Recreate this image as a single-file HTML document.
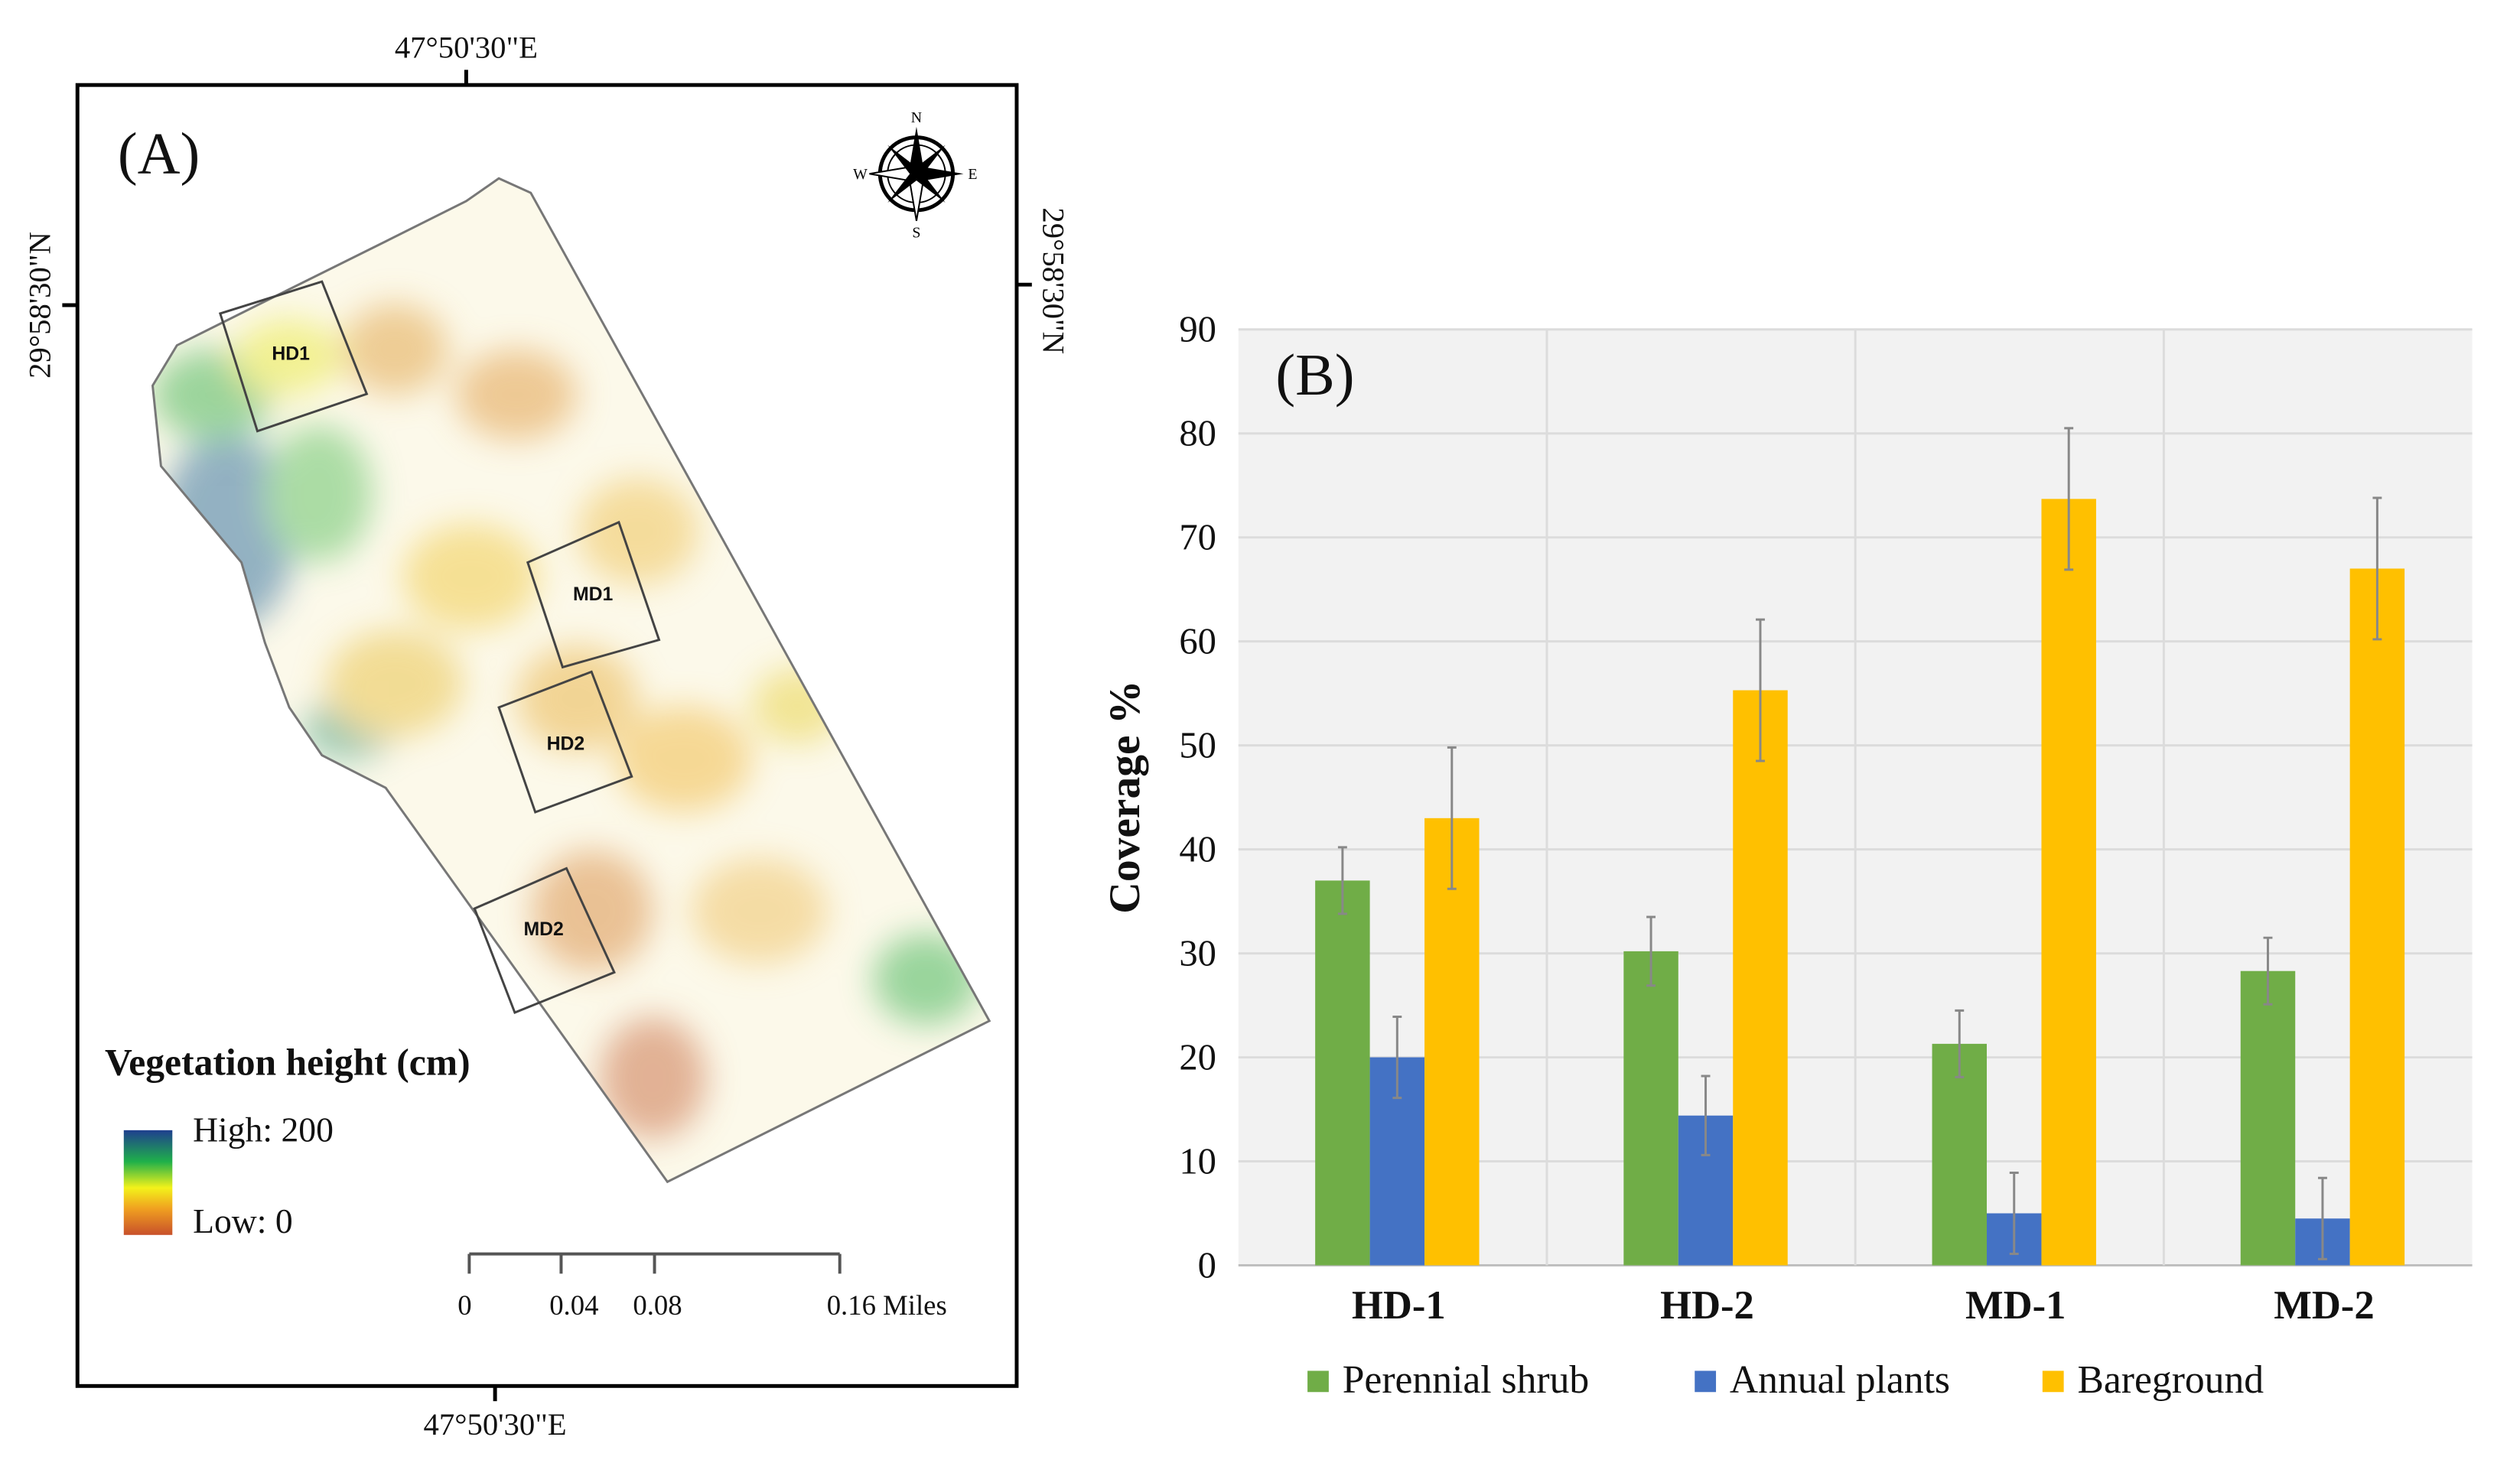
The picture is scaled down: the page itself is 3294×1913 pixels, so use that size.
<!DOCTYPE html>
<html><head><meta charset="utf-8"><style>
html,body{margin:0;padding:0;background:#fff;}
svg{display:block;font-family:"Liberation Serif",serif;}
</style></head><body>
<svg width="3294" height="1913" viewBox="0 0 3294 1913" xmlns="http://www.w3.org/2000/svg">
<defs>
<filter id="blur" x="-50%" y="-50%" width="200%" height="200%"><feGaussianBlur stdDeviation="22"/></filter>
<clipPath id="mapclip"><polygon points="657,235 699,254 1303,1345 879,1557 508,1038 424,995 381,932 349,847 318,741 212,614 201,508 233,455 339,402 508,318 614,265"/></clipPath>
<linearGradient id="cbar" x1="0" y1="0" x2="0" y2="1">
<stop offset="0" stop-color="#1f3f8f"/><stop offset="0.3" stop-color="#1fb04a"/><stop offset="0.55" stop-color="#f3f21a"/><stop offset="0.75" stop-color="#f0a020"/><stop offset="1" stop-color="#c8502a"/></linearGradient>
</defs>
<g transform="scale(0.9925)">
<g>
<rect x="102" y="112" width="1237" height="1714" fill="#fff" stroke="#000" stroke-width="5"/>
<g clip-path="url(#mapclip)">
<rect x="150" y="200" width="1200" height="1400" fill="#fcf9ea"/>
<g filter="url(#blur)" opacity="0.5">
<ellipse cx="300" cy="700" rx="90" ry="130" fill="#2a6a9a"/>
<ellipse cx="280" cy="520" rx="80" ry="60" fill="#3cb050"/>
<ellipse cx="420" cy="650" rx="70" ry="90" fill="#5cc060"/>
<ellipse cx="460" cy="960" rx="60" ry="40" fill="#2a9a7a"/>
<ellipse cx="380" cy="470" rx="70" ry="50" fill="#e8e83a"/>
<ellipse cx="520" cy="460" rx="70" ry="60" fill="#e0a040"/>
<ellipse cx="680" cy="520" rx="80" ry="60" fill="#e09a40"/>
<ellipse cx="620" cy="760" rx="90" ry="70" fill="#f0c840"/>
<ellipse cx="520" cy="900" rx="90" ry="70" fill="#e8c040"/>
<ellipse cx="760" cy="920" rx="80" ry="70" fill="#e8b040"/>
<ellipse cx="840" cy="700" rx="80" ry="70" fill="#eec050"/>
<ellipse cx="900" cy="1000" rx="90" ry="70" fill="#f0b840"/>
<ellipse cx="780" cy="1200" rx="80" ry="80" fill="#d88a40"/>
<ellipse cx="860" cy="1420" rx="70" ry="80" fill="#c86a40"/>
<ellipse cx="1000" cy="1200" rx="90" ry="70" fill="#eec060"/>
<ellipse cx="1220" cy="1290" rx="70" ry="60" fill="#38b050"/>
<ellipse cx="1050" cy="930" rx="60" ry="50" fill="#e8d040"/>
</g>
</g>
<polygon points="657,235 699,254 1303,1345 879,1557 508,1038 424,995 381,932 349,847 318,741 212,614 201,508 233,455 339,402 508,318 614,265" fill="none" stroke="#777" stroke-width="3"/>
<g fill="none" stroke="#444" stroke-width="3">
<polygon points="290,413 424,371 483,519 339,568"/>
<polygon points="695,741 815,688 868,843 741,879"/>
<polygon points="657,932 779,885 832,1023 705,1070"/>
<polygon points="625,1197 746,1144 809,1281 678,1334"/>
</g>
<g font-family="Liberation Sans,sans-serif" font-weight="bold" font-size="25" text-anchor="middle" fill="#111">
<text x="383" y="474">HD1</text>
<text x="781" y="791">MD1</text>
<text x="745" y="988">HD2</text>
<text x="716" y="1232">MD2</text>
</g>
<text x="155" y="228" font-size="78" fill="#111">(A)</text>
<g transform="translate(1207,229)">
<circle r="48" fill="none" stroke="#000" stroke-width="5"/>
<circle r="38" fill="none" stroke="#000" stroke-width="2"/>
<polygon points="0,-62 9,-9 0,0 -9,-9" fill="#000"/><polygon points="0,62 9,9 0,0 -9,9" fill="#fff" stroke="#000" stroke-width="2"/>
<polygon points="62,0 9,9 0,0 9,-9" fill="#000"/><polygon points="-62,0 -9,9 0,0 -9,-9" fill="#fff" stroke="#000" stroke-width="2"/>
<polygon points="38,-38 5,5 -5,-5" fill="#000"/><polygon points="-38,38 5,5 -5,-5" fill="#000"/>
<polygon points="-38,-38 5,-5 -5,5" fill="#000"/><polygon points="38,38 5,-5 -5,5" fill="#000"/>
<g font-size="20" text-anchor="middle"><text x="0" y="-68">N</text><text x="0" y="84">S</text><text x="-74" y="7">W</text><text x="74" y="7">E</text></g>
</g>
<g font-size="41" fill="#111">
<text x="614" y="76" text-anchor="middle">47°50'30"E</text>
<line x1="614" y1="92" x2="614" y2="112" stroke="#000" stroke-width="5"/>
<text x="652" y="1890" text-anchor="middle">47°50'30"E</text>
<line x1="652" y1="1826" x2="652" y2="1846" stroke="#000" stroke-width="5"/>
<text transform="translate(66,402) rotate(-90)" text-anchor="middle">29°58'30"N</text>
<line x1="82" y1="402" x2="102" y2="402" stroke="#000" stroke-width="5"/>
<text transform="translate(1374,370) rotate(90)" text-anchor="middle">29°58'30"N</text>
<line x1="1339" y1="375" x2="1359" y2="375" stroke="#000" stroke-width="5"/>
</g>
<g>
<text x="138" y="1416" font-size="50" font-weight="bold" fill="#111">Vegetation height (cm)</text>
<rect x="163" y="1489" width="64" height="138" fill="url(#cbar)"/>
<text x="254" y="1504" font-size="46" fill="#111">High: 200</text>
<text x="254" y="1624" font-size="46" fill="#111">Low: 0</text>
</g>
<g stroke="#555" stroke-width="4">
<line x1="618" y1="1652" x2="1106" y2="1652"/>
<line x1="618" y1="1652" x2="618" y2="1678"/><line x1="739" y1="1652" x2="739" y2="1678"/><line x1="862" y1="1652" x2="862" y2="1678"/><line x1="1106" y1="1652" x2="1106" y2="1678"/>
<g stroke="none" fill="#111" font-size="37" text-anchor="middle"><text x="612" y="1732">0</text><text x="756" y="1732">0.04</text><text x="866" y="1732">0.08</text><text x="1168" y="1732">0.16 Miles</text></g>
</g>
</g>

<g id="chart">
<rect x="1631" y="434" width="1625" height="1233" fill="#f2f2f2"/>
<g id="grid"></g>
<g id="bars"></g>
<g id="axes"></g>
<text x="1680" y="520" font-size="78" fill="#111">(B)</text>
<text transform="translate(1500,1050) rotate(-90)" text-anchor="middle" font-size="58" font-weight="bold" fill="#111">Coverage %</text>
<g id="legend"></g>
</g>
</g>
</svg>
<script>
var categories=["HD-1","HD-2","MD-1","MD-2"];
var seriesNames=["Perennial shrub","Annual plants","Bareground"];
var perennial=[37,30.2,21.3,28.3];
var annual=[20,14.4,5,4.5];
var bareground=[43,55.3,73.7,67];
var perennialErr=[3.2,3.3,3.2,3.2];
var annualErr=[3.9,3.8,3.9,3.9];
var baregroundErr=[6.8,6.8,6.8,6.8];
var yTicks=[0,10,20,30,40,50,60,70,80,90];
(function(){
var NS="http://www.w3.org/2000/svg";
var colors=["#70ad47","#4472c4","#ffc000"];
var vals=[perennial,annual,bareground], errs=[perennialErr,annualErr,baregroundErr];
var L=1631,R=3256,T=434,B=1667,yMax=90;
function y(v){return B-(v/yMax)*(B-T);}
var gw=(R-L)/categories.length;
function x(i){return L+gw*(i+0.5);}
var bw=72;
function mk(tag,attrs,parent){var e=document.createElementNS(NS,tag);for(var k in attrs)e.setAttribute(k,attrs[k]);parent.appendChild(e);return e;}
var grid=document.getElementById('grid'),bars=document.getElementById('bars'),axes=document.getElementById('axes'),leg=document.getElementById('legend');
yTicks.forEach(function(t){
 var l=mk('line',{x1:L,x2:R,y1:y(t),y2:y(t),stroke:t===0?'#bfbfbf':'#dcdcdc','stroke-width':3},grid);
 
 
 var tx=mk('text',{x:1602,y:y(t)+16,'text-anchor':'end','font-size':49,fill:'#111'},axes);
 tx.textContent=t;
 
 
});
for(var i=1;i<categories.length;i++){
 var l=mk('line',{x1:L+gw*i,x2:L+gw*i,y1:T,y2:B,stroke:'#dcdcdc','stroke-width':3},grid);
 
 
}
categories.forEach(function(c,i){
 vals.forEach(function(s,j){
  var bx=x(i)+(j-1.5)*bw+6;
  var r=mk('rect',{x:bx,y:y(s[i]),width:bw,height:B-y(s[i]),fill:colors[j]},bars);
  
  
  var cx=bx+bw/2,e=errs[j][i];
  var d='M'+cx+','+y(s[i]+e)+'V'+y(s[i]-e)+'M'+(cx-6)+','+y(s[i]+e)+'H'+(cx+6)+'M'+(cx-6)+','+y(s[i]-e)+'H'+(cx+6);
  var eb=mk('path',{d:d,stroke:'#888','stroke-width':3,fill:'none'},bars);
  
  
 });
 var t=mk('text',{x:x(i)+8,y:1737,'text-anchor':'middle','font-size':53,'font-weight':'bold',fill:'#111'},axes);
 t.textContent=c;
 
 
});
var lx=[1722,2232,2690];
seriesNames.forEach(function(n,j){
 var r=mk('rect',{x:lx[j],y:1806,width:28,height:28,fill:colors[j]},leg);
 
 
 var t=mk('text',{x:lx[j]+46,y:1835,'font-size':52,fill:'#111'},leg);
 t.textContent=n;
 
 
});
})();
</script>
</body></html>
